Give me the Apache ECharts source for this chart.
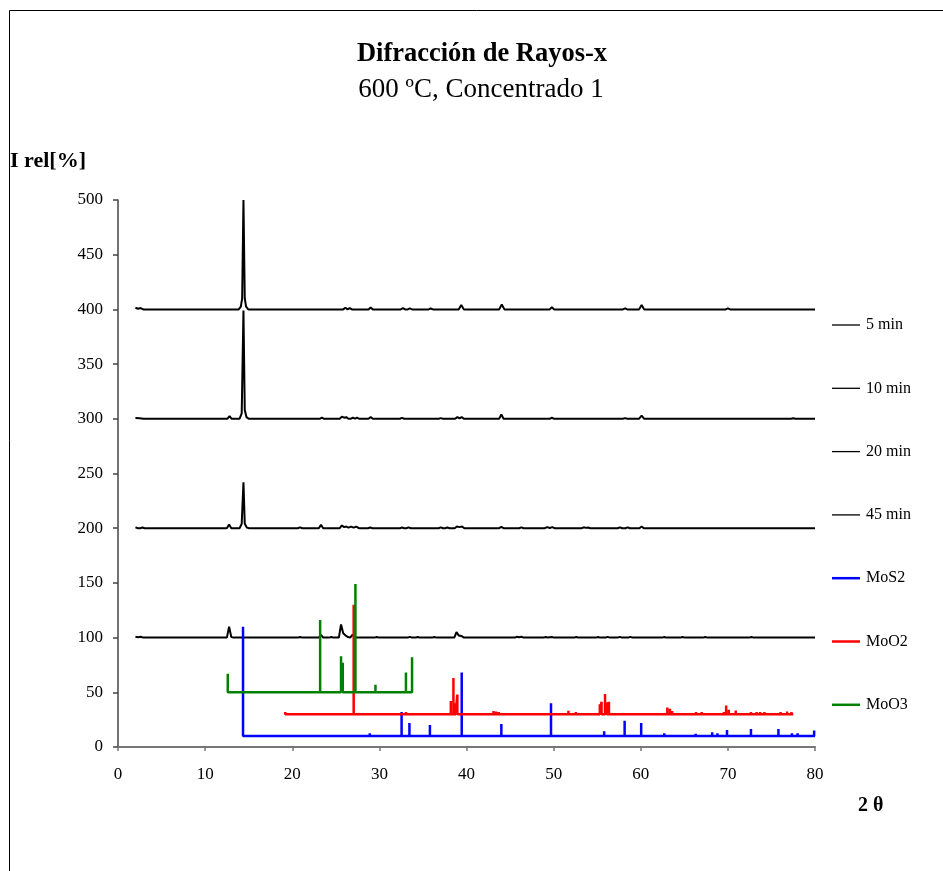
<!DOCTYPE html>
<html>
<head>
<meta charset="utf-8">
<script src="https://cdn.jsdelivr.net/npm/echarts@6/dist/echarts.min.js"></script>
<style>html,body{margin:0;padding:0;background:#fff}#c{width:943px;height:871px}</style>
</head>
<body>
<div id="c"></div>
<script>
// ---- data ----
var xTicks = [0, 10, 20, 30, 40, 50, 60, 70, 80];
var yTicks = [0, 50, 100, 150, 200, 250, 300, 350, 400, 450, 500];

// measured diffractograms (2θ, I rel) – offset traces
var trace5min = [[2.0,401.5],[2.3,400.6],[2.6,401.2],[2.9,400],[13.85,400],[14.1,402.5],[14.25,410],[14.4,500],[14.55,410],[14.7,402.5],[14.95,400],[25.85,400],[26.1,401.5],[26.35,400],[26.6,401.2],[26.85,400],[28.75,400],[29.0,401.8],[29.25,400],[32.45,400],[32.7,401.2],[32.95,400],[33.25,400],[33.5,401],[33.75,400],[35.65,400],[35.9,400.8],[36.15,400],[39.1,400],[39.4,404],[39.7,400],[43.75,400],[44.05,404.5],[44.35,400],[49.55,400],[49.8,402],[50.05,400],[57.95,400],[58.2,401],[58.45,400],[59.8,400],[60.1,404],[60.4,400],[69.75,400],[70.0,401],[70.25,400],[80,400]];
var trace10min = [[2.0,300.8],[2.5,300.4],[2.9,300],[12.55,300],[12.8,302.5],[13.05,300],[13.95,300],[14.2,305],[14.4,399],[14.55,308],[14.75,301.5],[15.0,300],[23.15,300],[23.4,301],[23.65,300],[25.45,300],[25.7,302],[25.95,301],[26.2,301.5],[26.45,300],[26.7,300],[26.95,301],[27.2,300.2],[27.45,301],[27.7,300],[28.75,300],[29.0,301.5],[29.25,300],[32.35,300],[32.6,300.8],[32.85,300],[36.8,300],[37.05,300.6],[37.3,300],[38.7,300],[38.95,301.5],[39.2,300.5],[39.45,301.5],[39.7,300],[43.75,300],[44.0,304],[44.25,300],[49.55,300],[49.8,301],[50.05,300],[57.95,300],[58.2,300.6],[58.45,300],[59.8,300],[60.1,303],[60.4,300],[77.25,300],[77.5,300.5],[77.75,300],[80,300]];
var trace20min = [[2.0,200.8],[2.3,200],[2.55,200],[2.8,200.6],[3.05,200],[12.5,200],[12.75,203.5],[13.0,200],[13.95,200],[14.2,204],[14.4,242],[14.55,204],[14.8,200.5],[15.05,200],[20.65,200],[20.9,200.8],[21.15,200],[23.05,200],[23.3,203],[23.55,200],[25.45,200],[25.7,202.5],[25.95,201],[26.2,201.5],[26.45,200.5],[26.75,201.5],[27.05,200.5],[27.35,201.5],[27.65,200],[28.7,200],[28.95,200.6],[29.2,200],[32.35,200],[32.6,200.6],[32.85,200],[33.1,200],[33.35,200.8],[33.6,200],[36.8,200],[37.05,200.8],[37.3,200],[37.55,200],[37.8,200.6],[38.05,200],[38.65,200],[38.9,201.5],[39.2,201],[39.5,201.5],[39.75,200],[43.75,200],[44.0,201.2],[44.25,200],[46.05,200],[46.3,200.8],[46.55,200],[49.0,200],[49.25,201],[49.55,200.2],[49.85,201],[50.1,200],[53.2,200],[53.45,200.8],[53.7,200.3],[53.95,200.7],[54.2,200],[57.35,200],[57.6,200.8],[57.85,200],[58.25,200],[58.5,200.8],[58.75,200],[59.85,200],[60.1,201.5],[60.35,200],[80,200]];
var trace45min = [[2.0,100.8],[2.3,100.4],[2.6,100.8],[2.9,100],[12.5,100],[12.75,110],[13.0,100.5],[13.25,100],[20.65,100],[20.9,100.6],[21.15,100],[23.05,100],[23.3,102.5],[23.55,100],[24.25,100],[24.5,100.6],[24.75,100],[25.35,100],[25.6,112],[25.85,104],[26.1,102],[26.4,100.5],[26.65,100],[26.9,102.5],[27.2,100.5],[27.45,100],[29.45,100],[29.7,100.6],[29.95,100],[33.25,100],[33.5,100.7],[33.75,100],[34.15,100],[34.4,100.6],[34.65,100],[36.05,100],[36.3,100.5],[36.55,100],[38.6,100],[38.85,105],[39.1,102],[39.4,101.5],[39.7,100],[45.55,100],[45.8,100.8],[46.05,100.3],[46.3,100.8],[46.55,100],[48.85,100],[49.1,100.6],[49.35,100],[49.55,100],[49.8,100.6],[50.05,100],[52.35,100],[52.6,100.6],[52.85,100],[54.85,100],[55.1,100.5],[55.35,100],[55.95,100],[56.2,100.7],[56.45,100],[57.35,100],[57.6,100.7],[57.85,100],[58.55,100],[58.8,100.7],[59.05,100],[62.45,100],[62.7,100.5],[62.95,100],[64.55,100],[64.8,100.6],[65.05,100],[67.15,100],[67.4,100.5],[67.65,100],[72.45,100],[72.7,100.5],[72.95,100],[80,100]];

// reference patterns (stick positions 2θ, relative intensity), each drawn on its own offset
var mos2Offset = 10;
var mos2Pos = [14.35, 28.9, 32.55, 33.45, 35.8, 39.45, 44.0, 49.7, 55.8, 58.15, 60.05, 62.7, 66.3, 68.2, 68.8, 69.9, 72.65, 75.8, 77.35, 78.0, 79.9];
var mos2Int = [100, 2.5, 22, 12, 10, 58, 11, 30, 4.5, 14, 12, 2.5, 2.1, 3.5, 2.5, 5.5, 6.5, 6.5, 2.5, 2.5, 5];
var mos2End = 80;

var moo2Offset = 30;
var moo2Pos = [19.2, 27.05, 33.05, 38.2, 38.5, 38.75, 38.95, 43.1, 43.4, 43.7, 51.7, 52.55, 55.3, 55.5, 55.9, 56.1, 56.35, 63.05, 63.35, 63.6, 66.35, 67.0, 69.55, 69.8, 70.1, 70.9, 72.65, 73.3, 73.7, 74.2, 76.05, 76.8, 77.3];
var moo2Int = [2.1, 100, 2.1, 12, 33, 10, 18, 3, 2.5, 2.1, 3.2, 2.1, 9, 11.4, 18.4, 11, 11.4, 6, 5, 3, 2.1, 2.1, 2.1, 8, 4, 3.3, 2.1, 2.1, 2.1, 2.1, 2.1, 2.5, 2.1];
var moo2End = 77.5;

var moo3Offset = 50;
var moo3Pos = [12.6, 23.2, 25.6, 25.8, 27.25, 29.55, 33.05, 33.75];
var moo3Int = [17, 66, 33, 27, 99, 7, 18, 32];
var moo3End = 33.75;

var seriesNames = ['5 min', '10 min', '20 min', '45 min', 'MoS2', 'MoO2', 'MoO3'];

function sticks(pos, inten, off, end) {
  var d = [];
  for (var i = 0; i < pos.length; i++) {
    d.push([pos[i], off]);
    d.push([pos[i], off + inten[i]]);
    d.push([pos[i], off]);
  }
  if (end > pos[pos.length - 1]) d.push([end, off]);
  return d;
}

var serif = '"Liberation Serif", "Times New Roman", serif';
function lineSeries(name, data, color, width) {
  return {
    name: name, type: 'line', data: data, symbol: 'none', showSymbol: false,
    silent: true, animation: false,
    lineStyle: { color: color, width: width },
    itemStyle: { color: color }
  };
}
var thinIcon = 'path://M0,0H28V1.3H0Z';
var thickIcon = 'path://M0,0H28V2.5H0Z';
var legendData = seriesNames.map(function (n, i) {
  return { name: n, icon: i < 4 ? thinIcon : thickIcon };
});

var chart = echarts.init(document.getElementById('c'));
chart.setOption({
  backgroundColor: '#fff',
  animation: false,
  title: [
    { text: 'Difracción de Rayos-x', left: 482, top: 41, padding: 0, textAlign: 'center',
      textStyle: { fontFamily: serif, fontWeight: 'bold', fontSize: 26.5, color: '#000' } },
    { text: '600 ºC, Concentrado 1', left: 481, top: 76, padding: 0, textAlign: 'center',
      textStyle: { fontFamily: serif, fontWeight: 'normal', fontSize: 27, color: '#000' } },
    { text: 'I rel[%]', left: 10, top: 150, padding: 0,
      textStyle: { fontFamily: serif, fontWeight: 'bold', fontSize: 22, color: '#000' } },
    { text: '2 θ', left: 858, top: 796, padding: 0,
      textStyle: { fontFamily: serif, fontWeight: 'bold', fontSize: 20, color: '#000' } }
  ],
  graphic: [
    { type: 'polyline', silent: true, shape: { points: [[9.5, 871], [9.5, 10.5], [943, 10.5]] },
      style: { stroke: '#000', lineWidth: 1, fill: null } }
  ],
  legend: {
    orient: 'vertical', left: 832, top: 317, padding: 0,
    itemWidth: 28, itemHeight: 16, itemGap: 47.3,
    data: legendData,
    textStyle: { fontFamily: serif, fontSize: 16, lineHeight: 16, color: '#000', padding: [0, 0, 0, 1] },
    selectedMode: false
  },
  grid: { left: 118, top: 200, right: 128, bottom: 124, containLabel: false },
  xAxis: {
    type: 'value', min: xTicks[0], max: xTicks[xTicks.length - 1], interval: 10,
    axisLine: { show: true, lineStyle: { color: '#777', width: 2 } },
    axisTick: { show: true, length: 4, lineStyle: { color: '#777', width: 1.5 } },
    splitLine: { show: false },
    axisLabel: { margin: 19, fontFamily: serif, fontSize: 17, color: '#000' }
  },
  yAxis: {
    type: 'value', min: yTicks[0], max: yTicks[yTicks.length - 1], interval: 50,
    axisLine: { show: true, lineStyle: { color: '#444', width: 1.5 } },
    axisTick: { show: true, length: 5, lineStyle: { color: '#444', width: 1.5 } },
    splitLine: { show: false },
    axisLabel: { margin: 15, fontFamily: serif, fontSize: 17, color: '#000' }
  },
  series: [
    lineSeries('5 min', trace5min, '#000', 2),
    lineSeries('10 min', trace10min, '#000', 2),
    lineSeries('20 min', trace20min, '#000', 2),
    lineSeries('45 min', trace45min, '#000', 2),
    lineSeries('MoS2', sticks(mos2Pos, mos2Int, mos2Offset, mos2End), '#0000ff', 2.5),
    lineSeries('MoO2', sticks(moo2Pos, moo2Int, moo2Offset, moo2End), '#ff0000', 2.5),
    lineSeries('MoO3', sticks(moo3Pos, moo3Int, moo3Offset, moo3End), '#008000', 2.5)
  ]
});
</script>
</body>
</html>
